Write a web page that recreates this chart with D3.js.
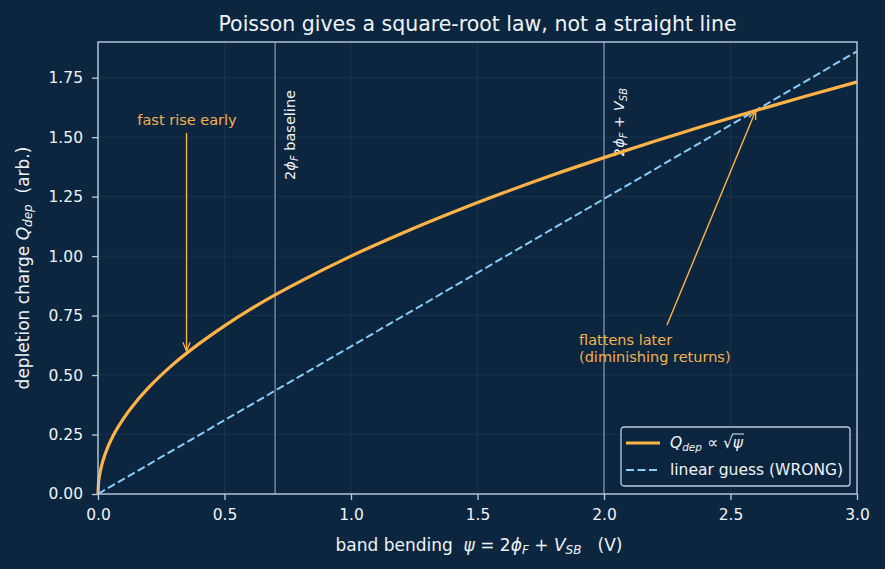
<!DOCTYPE html>
<html>
<head>
<meta charset="utf-8">
<script src="https://cdn.jsdelivr.net/npm/d3@7"></script>
<style>
  body { margin: 0; background: #0d2640; }
  text { font-family: "DejaVu Sans", sans-serif; }
</style>
</head>
<body>
<div id="chart"></div>
<script>
(function () {

    // band bending psi (V) and depletion charge
    var psi = [0, 0.002, 0.005, 0.01, 0.02, 0.04, 0.07, 0.1, 0.15, 0.2, 0.3, 0.4, 0.5, 0.6, 0.7, 0.8,
               1.0, 1.2, 1.4, 1.6, 1.8, 2.0, 2.2, 2.4, 2.6, 2.8, 3.0];
    var qdep = [0, 0.045, 0.071, 0.1, 0.141, 0.2, 0.265, 0.316, 0.387, 0.447, 0.548, 0.632, 0.707, 0.775, 0.837, 0.894,
                1.0, 1.095, 1.183, 1.265, 1.342, 1.414, 1.483, 1.549, 1.612, 1.673, 1.732];
    // straight-line guess
    var lin_psi = [0, 3.0];
    var lin_q = [0, 1.861];

    var x_ticks = [0, 0.5, 1.0, 1.5, 2.0, 2.5, 3.0];
    var y_ticks = [0, 0.25, 0.5, 0.75, 1.0, 1.25, 1.5, 1.75];
    var markers = [0.7, 2.0];

    var width = 885, height = 569;
    var left = 98, right = 857, top = 42, bottom = 494;
    var bg = '#0d2640';
    var spine = '#b9cde0';
    var orange = '#ffb347';
    var blue = '#87cefa';
    var textc = '#eef3f8';
    var annc = '#f2b24e';
    var nb = '\u00a0';

    var x = d3.scaleLinear().domain([0, 3]).range([left, right]);
    var y = d3.scaleLinear().domain([0, 1.9]).range([bottom, top]);

    var svg = d3.select('#chart').append('svg')
        .attr('width', width)
        .attr('height', height);

    svg.append('rect').attr('width', width).attr('height', height).attr('fill', bg);

    // grid
    var grid = svg.append('g');
    grid.selectAll('line.gx').data(x_ticks).enter().append('line')
        .attr('x1', function (d) { return x(d); }).attr('x2', function (d) { return x(d); })
        .attr('y1', top).attr('y2', bottom)
        .style('stroke', '#ffffff').style('stroke-opacity', 0.08).style('stroke-width', 0.8);
    grid.selectAll('line.gy').data(y_ticks).enter().append('line')
        .attr('x1', left).attr('x2', right)
        .attr('y1', function (d) { return y(d); }).attr('y2', function (d) { return y(d); })
        .style('stroke', '#ffffff').style('stroke-opacity', 0.08).style('stroke-width', 0.8);

    // marker lines
    svg.selectAll('line.mk').data(markers).enter().append('line')
        .attr('x1', function (d) { return x(d); }).attr('x2', function (d) { return x(d); })
        .attr('y1', top).attr('y2', bottom)
        .style('stroke', spine).style('stroke-opacity', 0.7).style('stroke-width', 1.2);

    function vlabel(xp, ytop, parts) {
        var t = svg.append('text')
            .attr('transform', 'translate(' + xp + ',' + ytop + ') rotate(-90)')
            .attr('text-anchor', 'end')
            .attr('fill', textc)
            .style('font-size', '14.5px');
        parts.forEach(function (p) {
            var s = t.append('tspan').text(p[0]);
            if (p[1] === 'i') s.style('font-style', 'italic');
            if (p[1] === 'sub') s.style('font-size', '10px').style('font-style', 'italic').attr('dy', 3);
            if (p[1] === 'back') s.attr('dy', -3);
        });
    }
    vlabel(x(0.7) + 20, 90, [['2', ''], ['\u03d5', 'i'], ['F', 'sub'], [nb + 'baseline', 'back']]);
    vlabel(x(2.0) + 20, 88, [['2', ''], ['\u03d5', 'i'], ['F', 'sub'], [nb + '+' + nb, 'back'], ['V', 'i'], ['SB', 'sub']]);

    // lines
    var line = d3.line()
        .x(function (d) { return x(d[0]); })
        .y(function (d) { return y(d[1]); });

    svg.append('path')
        .datum(lin_psi.map(function (v, i) { return [v, lin_q[i]]; }))
        .attr('d', line)
        .style('fill', 'none').style('stroke', blue).style('stroke-width', 2)
        .style('stroke-dasharray', '8,3.5');

    svg.append('path')
        .datum(psi.map(function (v, i) { return [v, qdep[i]]; }))
        .attr('d', line.curve(d3.curveMonotoneX))
        .style('fill', 'none').style('stroke', orange).style('stroke-width', 3.2);

    // annotations
    var defs = svg.append('defs');
    defs.append('marker').attr('id', 'ah').attr('viewBox', '0 0 10 10')
        .attr('refX', 10).attr('refY', 5).attr('markerWidth', 9).attr('markerHeight', 9)
        .attr('markerUnits', 'userSpaceOnUse').attr('orient', 'auto')
        .append('path').attr('d', 'M0,1 L10,5 L0,9').style('fill', 'none')
        .style('stroke', orange).style('stroke-width', 1.4);

    svg.append('text').attr('x', 187).attr('y', 125).attr('text-anchor', 'middle')
        .attr('fill', annc).style('font-size', '14.5px').text('fast rise early');
    svg.append('line').attr('x1', x(0.35)).attr('y1', 133).attr('x2', x(0.35)).attr('y2', y(0.6))
        .style('stroke', orange).style('stroke-width', 1.4).attr('marker-end', 'url(#ah)');

    svg.append('text').attr('x', 579).attr('y', 345)
        .attr('fill', annc).style('font-size', '14.5px').text('flattens later');
    svg.append('text').attr('x', 579).attr('y', 362)
        .attr('fill', annc).style('font-size', '14.5px').text('(diminishing returns)');
    svg.append('line').attr('x1', 667).attr('y1', 325).attr('x2', x(2.6)).attr('y2', y(1.612))
        .style('stroke', orange).style('stroke-width', 1.4).attr('marker-end', 'url(#ah)');

    // axes
    var xa = svg.append('g').attr('transform', 'translate(0,' + bottom + ')')
        .call(d3.axisBottom(x).tickValues(x_ticks).tickFormat(d3.format('.1f')).tickSize(6).tickPadding(9));
    var ya = svg.append('g').attr('transform', 'translate(' + left + ',0)')
        .call(d3.axisLeft(y).tickValues(y_ticks).tickFormat(d3.format('.2f')).tickSize(6).tickPadding(9));
    [xa, ya].forEach(function (a) {
        a.select('.domain').remove();
        a.selectAll('line').style('stroke', spine).style('stroke-width', 1.3);
        a.selectAll('text').attr('fill', textc).style('font-size', '15.5px')
            .style('font-family', '"DejaVu Sans", sans-serif');
    });

    svg.append('rect').attr('x', left).attr('y', top)
        .attr('width', right - left).attr('height', bottom - top)
        .style('fill', 'none').style('stroke', spine).style('stroke-width', 1.4);

    // title + axis labels
    svg.append('text').attr('x', (left + right) / 2).attr('y', 31).attr('text-anchor', 'middle')
        .attr('fill', textc).style('font-size', '20.5px')
        .text('Poisson gives a square-root law, not a straight line');

    var xl = svg.append('text').attr('x', 479).attr('y', 551).attr('text-anchor', 'middle')
        .attr('fill', textc).style('font-size', '17px');
    xl.append('tspan').text('band bending' + nb + nb);
    xl.append('tspan').style('font-style', 'italic').text('\u03c8');
    xl.append('tspan').text(nb + '=' + nb + '2');
    xl.append('tspan').style('font-style', 'italic').text('\u03d5');
    xl.append('tspan').style('font-style', 'italic').style('font-size', '12px').attr('dy', 3).text('F');
    xl.append('tspan').attr('dy', -3).text(nb + '+' + nb);
    xl.append('tspan').style('font-style', 'italic').text('V');
    xl.append('tspan').style('font-style', 'italic').style('font-size', '12px').attr('dy', 3).text('SB');
    xl.append('tspan').attr('dy', -3).text(nb + nb + nb + '(V)');

    var yl = svg.append('text').attr('transform', 'translate(29,' + ((top + bottom) / 2) + ') rotate(-90)')
        .attr('text-anchor', 'middle').attr('fill', textc).style('font-size', '17px');
    yl.append('tspan').text('depletion charge' + nb);
    yl.append('tspan').style('font-style', 'italic').text('Q');
    yl.append('tspan').style('font-style', 'italic').style('font-size', '12px').attr('dy', 3).text('dep');
    yl.append('tspan').attr('dy', -3).text(nb + nb + '(arb.)');

    // legend
    var lg = svg.append('g').attr('transform', 'translate(621,427)');
    lg.append('rect').attr('width', 229).attr('height', 59).attr('rx', 3)
        .style('fill', bg).style('fill-opacity', 0.85).style('stroke', spine).style('stroke-width', 1.3);
    lg.append('line').attr('x1', 5).attr('x2', 39).attr('y1', 16).attr('y2', 16)
        .style('stroke', orange).style('stroke-width', 3.2);
    lg.append('line').attr('x1', 5).attr('x2', 39).attr('y1', 43).attr('y2', 43)
        .style('stroke', blue).style('stroke-width', 2).style('stroke-dasharray', '8,3.5');
    var l1 = lg.append('text').attr('x', 49).attr('y', 21).attr('fill', textc).style('font-size', '15.5px');
    l1.append('tspan').style('font-style', 'italic').text('Q');
    l1.append('tspan').style('font-style', 'italic').style('font-size', '10.5px').attr('dy', 3).text('dep');
    l1.append('tspan').attr('dy', -3).text(nb + '\u221d' + nb + '\u221a');
    l1.append('tspan').style('font-style', 'italic').text('\u03c8');
    var n = l1.node();
    var nc = n.getNumberOfChars();
    var ox0 = n.getEndPositionOfChar(nc - 2).x;
    var ox1 = n.getEndPositionOfChar(nc - 1).x;
    lg.append('line').attr('x1', ox0 - 1).attr('x2', ox1 + 1).attr('y1', 21 - 14).attr('y2', 21 - 14)
        .style('stroke', textc).style('stroke-width', 1);
    lg.append('text').attr('x', 49).attr('y', 48).attr('fill', textc).style('font-size', '15.5px')
        .text('linear guess (WRONG)');
})();
</script>
</body>
</html>
